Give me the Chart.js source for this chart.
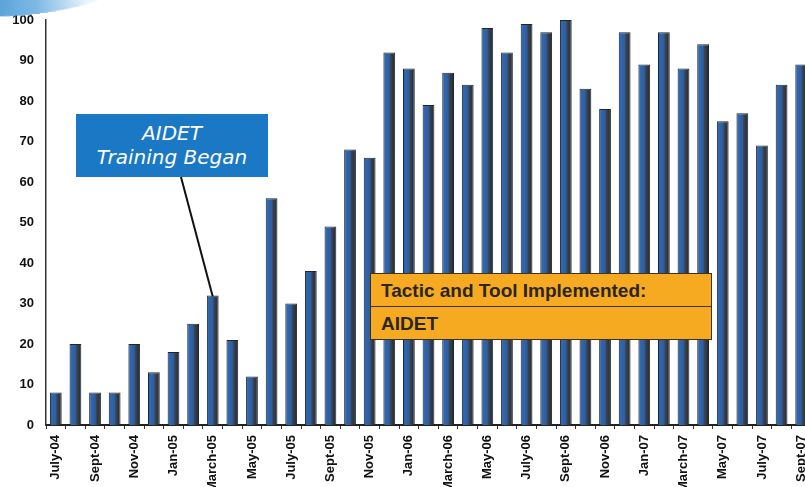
<!DOCTYPE html>
<html>
<head>
<meta charset="utf-8">
<script src="https://cdn.jsdelivr.net/npm/chart.js@4.4.1/dist/chart.umd.min.js"></script>
<style>
  html, body { margin: 0; padding: 0; background: #fff; }
  body { width: 805px; height: 487px; overflow: hidden; position: relative; }
  #wrap { position: absolute; left: 0; top: 0; width: 812px; height: 510px; }
  .swoosh {
    position: absolute; left: -50px; top: -26px; width: 170px; height: 40px;
    border-radius: 50%; transform: rotate(-7deg);
    background: linear-gradient(90deg, #2f86cc 0%, #7db9e6 50%, rgba(220,236,250,0.6) 80%, rgba(255,255,255,0) 100%);
  }
  .note-blue {
    position: absolute; left: 76px; top: 114px; width: 192px; height: 63px;
    background: #1b78c4; color: #fff; text-align: center;
    font: italic 20px "DejaVu Sans", sans-serif; line-height: 24px;
    box-sizing: border-box; padding-top: 7px;
  }
  .note-orange {
    position: absolute; left: 370px; top: 273px; width: 342px; height: 67px;
    background: #f6aa22; border: 1px solid #3e3320; box-sizing: border-box;
    font: bold 19px "Liberation Sans", Arial, sans-serif; color: #2b2620;
  }
  .note-orange div { height: 32px; line-height: 33px; padding-left: 10px; }
  .note-orange div + div { border-top: 1.5px solid #3e3320; }
</style>
</head>
<body>
<div id="wrap"><canvas id="chart"></canvas></div>
<div class="swoosh"></div>
<div class="note-blue">AIDET<br>Training Began</div>
<div class="note-orange"><div>Tactic and Tool Implemented:</div><div>AIDET</div></div>
<script>
// months July-04 .. Sept-07 (every other one is labelled on the axis)
const months = [
  'July-04','Aug-04','Sept-04','Oct-04','Nov-04','Dec-04',
  'Jan-05','Feb-05','March-05','Apr-05','May-05','June-05',
  'July-05','Aug-05','Sept-05','Oct-05','Nov-05','Dec-05',
  'Jan-06','Feb-06','March-06','Apr-06','May-06','June-06',
  'July-06','Aug-06','Sept-06','Oct-06','Nov-06','Dec-06',
  'Jan-07','Feb-07','March-07','Apr-07','May-07','June-07',
  'July-07','Aug-07','Sept-07'
];
const scores = [
  8, 20, 8, 8, 20, 13,
  18, 25, 32, 21, 12, 56,
  30, 38, 49, 68, 66, 92,
  88, 79, 87, 84, 98, 92,
  99, 97, 100, 83, 78, 97,
  89, 97, 88, 94, 75, 77,
  69, 84, 89
];
const yTicks = [0, 10, 20, 30, 40, 50, 60, 70, 80, 90, 100];
const trainingMonth = 'March-05';

// bar looks like a shaded column: blue on the left, dark grey on the right
function barFill(ctx) {
  const chart = ctx.chart;
  if (!chart.chartArea || ctx.type !== 'data') return '#2e62a6';
  const x = chart.scales.x.getPixelForValue(ctx.dataIndex);
  const w = 12;
  const g = chart.ctx.createLinearGradient(x - w / 2, 0, x + w / 2, 0);
  g.addColorStop(0, '#223a5c');
  g.addColorStop(0.15, '#2f68b2');
  g.addColorStop(0.5, '#2d5e9f');
  g.addColorStop(0.62, '#3b434f');
  g.addColorStop(1, '#24282e');
  return g;
}

// pointer from the blue note down to the top of the training month bar
const pointer = {
  id: 'pointer',
  afterDatasetsDraw(chart) {
    const i = months.indexOf(trainingMonth);
    const x = chart.scales.x.getPixelForValue(i);
    const y = chart.scales.y.getPixelForValue(scores[i]);
    const c = chart.ctx;
    c.save();
    c.strokeStyle = '#111';
    c.lineWidth = 2;
    c.beginPath();
    c.moveTo(181, 177);
    c.lineTo(x, y + 1);
    c.stroke();
    c.restore();
  }
};

new Chart(document.getElementById('chart'), {
  type: 'bar',
  data: {
    labels: months,
    datasets: [{
      data: scores,
      backgroundColor: barFill,
      borderColor: '#1d2633',
      borderWidth: 1,
      barPercentage: 0.6,
      categoryPercentage: 1
    }]
  },
  options: {
    responsive: true,
    maintainAspectRatio: false,
    animation: false,
    layout: { padding: { top: 20, right: 1, left: 0, bottom: 0 } },
    plugins: { legend: { display: false }, tooltip: { enabled: false } },
    scales: {
      x: {
        // rotated labels would otherwise shrink the plot at both ends
        afterFit: s => { s.height = 85; s.paddingLeft = 0; s.paddingRight = 0; },
        grid: { display: true, drawOnChartArea: false, drawTicks: true, tickLength: 4, color: '#333', offset: true },
        border: { display: true, color: '#222', width: 2 },
        ticks: {
          autoSkip: false,
          maxRotation: 90,
          minRotation: 90,
          padding: 6,
          color: '#111',
          font: { family: 'Liberation Sans, Arial, sans-serif', size: 13, weight: 'bold' },
          callback: (v, i) => (i % 2 === 0 ? months[i] : '')
        }
      },
      y: {
        min: 0,
        max: 100,
        afterFit: s => { s.width = 46; },
        afterBuildTicks: s => { s.ticks = yTicks.map(v => ({ value: v })); },
        grid: { display: false, drawTicks: false },
        border: { display: true, color: '#333', width: 1.5 },
        ticks: {
          padding: 12,
          color: '#111',
          font: { family: 'Liberation Sans, Arial, sans-serif', size: 13, weight: 'bold' }
        }
      }
    }
  },
  plugins: [pointer]
});
</script>
</body>
</html>
